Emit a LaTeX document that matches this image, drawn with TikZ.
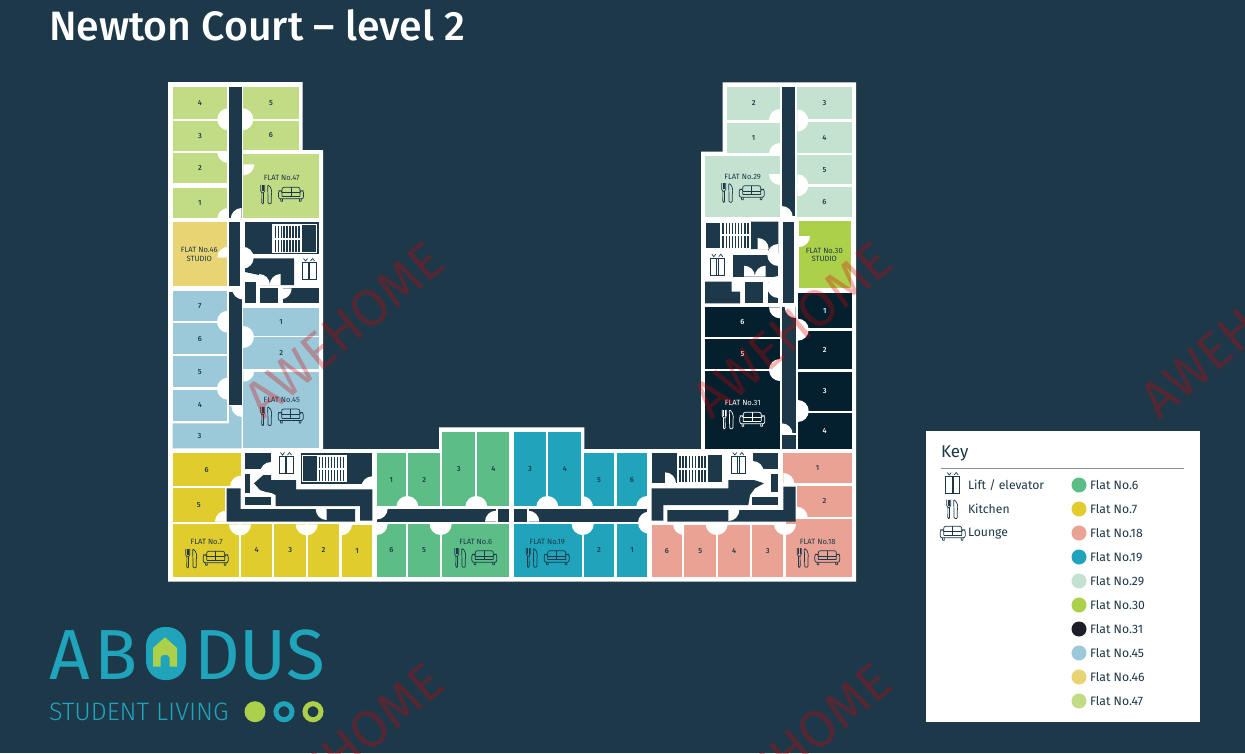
\documentclass[tikz,border=0pt]{standalone}
\usepackage{fontspec}
\setmainfont{Fira Sans}
\newfontfamily\lightfont{Fira Sans Light}
\newfontfamily\mediumfont{Fira Sans Medium}
\usetikzlibrary{shapes}

\definecolor{plandark}{HTML}{1D3849}
\definecolor{flatsix}{HTML}{5CBD86}
\definecolor{flatseven}{HTML}{E0CC2C}
\definecolor{flateighteen}{HTML}{EAA294}
\definecolor{flatnineteen}{HTML}{1FA4BC}
\definecolor{flattwentynine}{HTML}{C4E2D0}
\definecolor{flatthirty}{HTML}{ADD04A}
\definecolor{flatthirtyone}{HTML}{04202E}
\definecolor{flatfortyfive}{HTML}{9BC9DA}
\definecolor{flatfortysix}{HTML}{E8D472}
\definecolor{flatfortyseven}{HTML}{C2DB85}
\definecolor{logolime}{HTML}{ADD04A}
\definecolor{keyblack}{HTML}{1D1D27}

\newcommand{\room}[5]{\path[fill=#4] (#2) rectangle (#3) node[midway,roomnum](#1){#5};}
\newcommand{\door}[3]{\fill[white] (#1) -- ++(#2:11pt) arc[start angle=#2,end angle=#3,radius=11pt] -- cycle;}
\newcommand{\stairs}[6]{
\fill[white] (#1,#2) rectangle (#3,#4);
\fill[plandark] (#1+1,#2+1) rectangle (#3-1,#4-1);
\fill[white] (#5,#2) rectangle (#6,#4);
\foreach \n in {1,...,9} \fill[plandark] ({#5+\n*(#6-#5)/10-.7},#2+1.5) rectangle ({#5+\n*(#6-#5)/10+.7},#4-1.5);
\fill[white] (#5,{(#2+#4)/2-1}) rectangle (#6,{(#2+#4)/2+1});
}
\tikzset{
 pics/kitchen/.style={code={
  \draw[line width=.7pt] (-6,-9.5) -- (-6,-3.5) -- (-4.8,-1.5) -- (-3.2,-1.5) -- (-2,-3.5) -- (-2,-9.5);
  \draw[line width=.7pt] (-4.7,-9.5) -- (-4.7,-3.5) (-3.3,-9.5) -- (-3.3,-3.5);
  \draw[line width=.7pt,rounded corners=1pt] (-4.8,-1.5) -- (-4.9,9.5) -- (-3.1,9.5) -- (-3.2,-1.5);
  \draw[line width=.7pt,rounded corners=1pt] (1,-9.5) .. controls (5,-7) and (5.2,-2) .. (4.6,.5) -- (4.6,9.5) -- (1.4,9.5) -- cycle;
 }},
 pics/lounge/.style={code={
  \draw[line width=.7pt,rounded corners=2pt] (-9,-2) -- (-9,-7) -- (9,-7) -- (9,-2);
  \draw[line width=.7pt] (0,-7) -- (0,2) (-9,-1.5) -- (9,-1.5) (-9,2) -- (9,2);
  \draw[line width=.7pt,rounded corners=2pt] (-9,-1) -- (-9,-3.5) -- (-12.5,-3.5) -- (-12.5,4.5) -- (12.5,4.5) -- (12.5,-3.5) -- (9,-3.5) -- (9,2);
  \draw[line width=.7pt] (-9,2) -- (-9,-1) (-10.5,4.5) -- (-10,7) -- (-8.5,7) -- (-8.5,4.5) (10.5,4.5) -- (10,7) -- (8.5,7) -- (8.5,4.5);
 }},
 pics/lift/.style={code={
  \draw[line width=.7pt] (-7,-8.5) rectangle (7,8.5) (-.7,-8.5) -- (-.7,8.5) (.7,-8.5) -- (.7,8.5);
  \draw[line width=.7pt] (-5.5,-12.5) -- (-3.5,-10) -- (-1.5,-12.5) (1.5,-10) -- (3.5,-12.5) -- (5.5,-10);
 }}
}

\begin{document}
\begin{tikzpicture}[x=1pt,y=-1pt,text=plandark]
\tikzstyle{every node}=[inner sep=0pt,outer sep=0pt]
\tikzstyle{roomnum}=[font=\mediumfont\fontsize{7.4}{8}\selectfont]
\tikzstyle{flattitle}=[font=\fontsize{7.6}{8.6}\selectfont,align=center]
\tikzstyle{keydot}=[circle,minimum size=15pt,fill=#1]
\tikzstyle{keytext}=[anchor=west,font=\fontsize{12.2}{15}\selectfont]
\tikzstyle{watermark}=[anchor=south west,rotate=40,text=red!85!black,opacity=.3,font=\fontsize{52}{53}\selectfont]
\tikzstyle{logotype}=[anchor=base west,text=flatnineteen,font=\fontsize{71}{72}\selectfont]
\useasboundingbox (0,0) rectangle (1245,753);
\clip (0,0) rectangle (1245,753);
\fill[plandark] (0,0) rectangle (1245,753);

\node[anchor=base west,text=white,font=\mediumfont\fontsize{41}{45}\selectfont](title) at (49,40) {Newton Court – level 2};

\fill[white] (168,82) -- (302.7,82) -- (302.7,150) -- (323,150) -- (323,449) -- (439,449) -- (439,427.3) -- (584.3,427.3) -- (584.3,449) -- (701,449) -- (701,151.7) -- (722.7,151.7) -- (722.7,82.3) -- (856,82.3) -- (856,581.7) -- (168,581.7) -- cycle;

\room{fxlvii4}{172.5,86.7}{227.3,119}{flatfortyseven}{4}
\room{fxlvii3}{172.5,121}{227.3,151}{flatfortyseven}{3}
\room{fxlvii2}{172.5,153}{227.3,183}{flatfortyseven}{2}
\room{fxlvii1}{172.5,187.7}{227.3,218.3}{flatfortyseven}{1}
\room{fxlvii5}{243.3,86.7}{298.7,119}{flatfortyseven}{5}
\room{fxlvii6}{243.3,121}{298.7,150}{flatfortyseven}{6}
\room{fxlvii}{243.3,154.3}{319,218.3}{flatfortyseven}{}
\room{fxlvi}{172.5,222}{227.3,285.7}{flatfortysix}{}

\room{fxlv7}{172.5,290.7}{227.3,320.7}{flatfortyfive}{7}
\room{fxlv6}{172.5,323.3}{227.3,354}{flatfortyfive}{6}
\room{fxlv5}{172.5,356}{227.3,387.3}{flatfortyfive}{5}
\room{fxlv4}{172.5,390}{227.3,420.7}{flatfortyfive}{4}
\fill[flatfortyfive] (172.5,423.3) -- (229,423.3) -- (229,406) -- (241.7,406) -- (241.7,448.3) -- (172.5,448.3) -- cycle;
\node[roomnum](fxlv3) at (199.5,436) {3};
\room{fxlv1}{243.3,308}{319,335.7}{flatfortyfive}{1}
\room{fxlv2}{243.3,337.3}{319,369.3}{flatfortyfive}{2}
\room{fxlv}{243.3,371.7}{319,448.3}{flatfortyfive}{}

\room{fvii6}{172.5,453.3}{240.7,486}{flatseven}{6}
\room{fvii5}{172.5,488.3}{225,521.7}{flatseven}{5}
\room{fvii}{172.5,524}{238.7,576.7}{flatseven}{}
\room{fvii4}{241,524}{272.3,576.7}{flatseven}{4}
\room{fvii3}{274.3,524}{306,576.7}{flatseven}{3}
\room{fvii2}{308.3,524}{338.7,576.7}{flatseven}{2}
\room{fvii1}{341.7,525}{372.3,576.7}{flatseven}{1}

\room{fvi1}{376.7,453.3}{406,506}{flatsix}{1}
\room{fvi2}{408.3,453.3}{440,506}{flatsix}{2}
\room{fvi3}{442.3,432}{475.3,506}{flatsix}{3}
\room{fvi4}{477.3,432}{509.3,506}{flatsix}{4}
\room{fvi6}{376.7,524}{406,576.7}{flatsix}{6}
\room{fvi5}{408.3,524}{440,576.7}{flatsix}{5}
\room{fvi}{442.3,524}{509.3,576.7}{flatsix}{}

\room{fxix3}{514,432}{546,506}{flatnineteen}{3}
\room{fxix4}{548.3,432}{581.3,506}{flatnineteen}{4}
\room{fxix5}{583.7,453.3}{614.3,506}{flatnineteen}{5}
\room{fxix6}{616.7,453.3}{647.3,506}{flatnineteen}{6}
\room{fxix}{514,524}{581.7,576.7}{flatnineteen}{}
\room{fxix2}{583.7,524}{614.3,576.7}{flatnineteen}{2}
\room{fxix1}{616.7,524}{647.3,576.7}{flatnineteen}{1}

\room{fxviii1}{783.3,453.3}{851.7,483.3}{flateighteen}{1}
\room{fxviii2}{797.3,485.7}{851.7,516.7}{flateighteen}{2}
\room{fxviii}{785.7,518.7}{851.7,577.3}{flateighteen}{}
\room{fxviii6}{651.7,524.7}{682.3,577.3}{flateighteen}{6}
\room{fxviii5}{684.3,524.7}{716.3,577.3}{flateighteen}{5}
\room{fxviii4}{718.3,524.7}{750,577.3}{flateighteen}{4}
\room{fxviii3}{752,524.7}{783.3,577.3}{flateighteen}{3}

\begin{scope}[text=white]
\room{fxxxi6}{705,307.3}{780,336.7}{flatthirtyone}{6}
\room{fxxxi5}{705,338.7}{780,369.3}{flatthirtyone}{5}
\room{fxxxi}{705,371.3}{780,448.7}{flatthirtyone}{}
\room{fxxxi1}{797.7,293.3}{851.7,328.3}{flatthirtyone}{1}
\room{fxxxi2}{797.7,330.7}{851.7,369.3}{flatthirtyone}{2}
\room{fxxxi3}{797.7,371.7}{851.7,410.7}{flatthirtyone}{3}
\room{fxxxi4}{797.7,412.7}{851.7,448.7}{flatthirtyone}{4}
\end{scope}

\room{fxxix2}{727.3,86.7}{780,120}{flattwentynine}{2}
\room{fxxix1}{727.3,122.7}{780,153.3}{flattwentynine}{1}
\room{fxxix}{705,155.7}{780,216.7}{flattwentynine}{}
\room{fxxix3}{797.3,86.7}{851.7,119.3}{flattwentynine}{3}
\room{fxxix4}{797.3,122.3}{851.7,152.7}{flattwentynine}{4}
\room{fxxix5}{797.3,155}{851.7,184.3}{flattwentynine}{5}
\room{fxxix6}{797.3,186.7}{851.7,216.7}{flattwentynine}{6}
\room{fxxx}{799,221}{851,288.3}{flatthirty}{}

\door{228.3,119.3}{90}{270}
\door{242.3,119.3}{-90}{90}
\door{228.3,152}{180}{270}
\door{243.3,164.3}{-90}{0}
\door{228.3,219}{90}{180}
\door{228.3,257.7}{90}{180}
\door{228,321.7}{90}{270}
\door{228,388.7}{90}{270}
\door{243,337}{-90}{90}
\door{243.3,370.7}{-90}{0}
\door{242.3,406}{180}{270}
\door{241,486.7}{90}{180}
\door{226,521.7}{90}{180}
\door{240,524.3}{180}{360}
\door{306.7,524.3}{180}{360}
\door{341,524.3}{270}{360}
\door{407.3,507}{0}{180}
\door{476.3,507}{0}{180}
\door{547.3,507}{0}{180}
\door{582,507}{0}{90}
\door{647.3,507}{90}{180}
\door{440.7,524}{180}{360}
\door{582.7,524}{180}{360}
\door{376.7,524}{270}{360}
\door{684,524}{180}{270}
\door{716.7,524}{180}{360}
\door{785,524}{180}{360}
\door{796.7,517.7}{0}{90}
\door{783.3,484}{0}{90}
\door{780,307.3}{180}{270}
\door{797.7,329.7}{-90}{90}
\door{780,370}{90}{270}
\door{797.7,411}{-90}{90}
\door{780,120}{90}{180}
\door{797.3,120.5}{-90}{90}
\door{780,154}{90}{180}
\door{780,174}{180}{270}
\door{797.3,185.3}{-90}{90}
\door{799,236}{-90}{0}

\fill[plandark] (229,86.7) rectangle (241.7,218);
\fill[plandark] (229,222) rectangle (240.3,285.7);
\fill[plandark] (229,291.7) rectangle (241.7,405);
\fill[plandark] (245,222) rectangle (319,254);
\fill[plandark] (245,258.3) -- (294,258.3) -- (294,285) -- (259,285) -- (259,275) -- (245,272) -- cycle;
\fill[plandark] (245,281.7) rectangle (255.5,303.3);
\fill[plandark] (260,288.3) rectangle (278.3,303.3);
\fill[plandark] (282.7,288.3) rectangle (319,303.3);

\fill[plandark] (245,453.3) rectangle (271,469.3);
\fill[plandark] (300.7,453.3) rectangle (372.3,484.3);
\fill[plandark] (245,474) rectangle (250,492.7);
\fill[plandark] (245,497) rectangle (271,505);
\fill[plandark] (254,483.3) -- (263.3,475) -- (271,475) -- (271,480) -- (296,480) -- (296,489.3) -- (372.3,489.3) -- (372.3,520.7) -- (360,520.7) -- (360,506) -- (275.7,506) -- (275.7,495) -- (271.7,493) -- (266,492) -- (260,490) -- cycle;
\fill[plandark] (226.7,488.3) -- (240.7,488.3) -- (240.7,509) -- (355,509) -- (355,521.7) -- (226.7,521.7) -- cycle;

\fill[plandark] (376.7,509.3) rectangle (496,521.7);
\fill[plandark] (497.7,509.3) rectangle (509.3,521.7);
\fill[plandark] (514,509.3) rectangle (526.7,521.7);
\fill[plandark] (529.3,509.3) rectangle (647.3,521.7);

\fill[plandark] (651.7,453.3) rectangle (676.7,483.3);
\fill[plandark] (752.7,453.3) rectangle (778.3,469.3);
\fill[plandark] (651.7,488.3) -- (728.3,488.3) -- (728.3,480) -- (754,480) -- (764,483.3) -- (755,488.3) -- (750,495) -- (748.3,505) -- (663.3,505) -- (663.3,520.7) -- (651.7,520.7) -- cycle;
\fill[plandark] (783.3,486.7) -- (795.7,486.7) -- (795.7,521.7) -- (667.3,521.7) -- (667.3,510) -- (783.3,510) -- cycle;
\fill[plandark] (770.7,474) rectangle (778.3,491.7);
\fill[plandark] (751.7,496.7) rectangle (778.3,505);

\fill[plandark] (781.7,86.7) rectangle (795,216);
\fill[plandark] (783.3,221.7) rectangle (794,303.3);
\fill[plandark] (782,307) rectangle (795.7,433);
\fill[plandark] (782,434.7) rectangle (795.7,448.7);
\fill[plandark] (751,221.7) -- (778.3,221.7) -- (778.3,253.3) -- (768,253.3) -- (768,249) -- (751,249) -- cycle;
\fill[plandark] (733.3,255) rectangle (778.3,276.7);
\fill[plandark] (705,281.7) -- (731.7,281.7) -- (731.7,291.7) -- (740,291.7) -- (740,303.3) -- (705,303.3) -- cycle;
\fill[plandark] (745,281.7) rectangle (763.3,303.3);
\fill[plandark] (767.7,281.7) rectangle (778.3,303.3);

\door{241.7,219}{90}{180}
\door{242.7,257.7}{-90}{90}
\door{243,288.5}{180}{270}
\door{259,285}{0}{90}
\door{280.7,285}{90}{180}
\door{280.7,288.3}{-90}{0}
\door{271,473}{90}{180}
\door{372.3,487.3}{90}{180}
\door{326.7,509}{180}{270}
\door{376.7,508.5}{-90}{0}
\door{496,521.7}{90}{180}
\door{528.3,521.7}{0}{90}
\door{649,522.7}{90}{270}
\door{665,483.3}{0}{90}
\door{752.7,472}{0}{90}
\door{728.3,510}{-90}{0}
\door{795.7,307}{180}{270}
\door{781.7,434.3}{0}{90}
\door{781.7,217}{0}{90}
\door{757.7,249}{0}{90}
\door{778.3,255}{90}{270}
\door{744,276.7}{0}{90}
\door{765.7,276.7}{90}{180}
\door{778.3,287}{90}{270}

\stairs{272.3}{224.3}{316.7}{253.3}{272.3}{302}
\stairs{302.3}{455}{346.7}{482.3}{316.7}{346.7}
\stairs{676.7}{454.3}{723.3}{483.3}{676.7}{708.3}
\stairs{705}{221.7}{751}{249}{720}{751}

\pic[color=plandark] at (309,271) {lift};
\pic[color=plandark] at (286,465) {lift};
\pic[color=plandark] at (738.3,465) {lift};
\pic[color=plandark] at (717.3,266.7) {lift};

\node[flattitle](txlvii) at (281.7,177.7) {FLAT No.47};
\pic[color=plandark] at (266.7,194.3) {kitchen};
\pic[color=plandark] at (291,194.3) {lounge};
\node[flattitle](txlvi) at (199.3,254.3) {FLAT No.46\\STUDIO};
\node[flattitle](txlv) at (281.7,400) {FLAT No.45};
\pic[color=plandark] at (266.7,416) {kitchen};
\pic[color=plandark] at (290.7,416) {lounge};
\node[flattitle](tvii) at (206.7,542.3) {FLAT No.7};
\pic[color=plandark] at (191.7,558.3) {kitchen};
\pic[color=plandark] at (215.7,558.3) {lounge};
\node[flattitle](tvi) at (475.7,542) {FLAT No.6};
\pic[color=plandark] at (460.7,557.7) {kitchen};
\pic[color=plandark] at (484.3,557.7) {lounge};
\node[flattitle](txix) at (547.3,542) {FLAT No.19};
\pic[color=plandark] at (532.3,557.7) {kitchen};
\pic[color=plandark] at (556.7,557.7) {lounge};
\node[flattitle](txviii) at (817.7,541.7) {FLAT No.18};
\pic[color=plandark] at (803.3,557.7) {kitchen};
\pic[color=plandark] at (827.3,557.7) {lounge};
\node[flattitle,text=white](txxxi) at (742.7,402.7) {FLAT No.31};
\pic[color=white] at (728.3,419.3) {kitchen};
\pic[color=white] at (752.3,419.3) {lounge};
\node[flattitle](txxix) at (742.7,176.7) {FLAT No.29};
\pic[color=plandark] at (727.7,192.7) {kitchen};
\pic[color=plandark] at (751.7,192.7) {lounge};
\node[flattitle](txxx) at (824.3,255) {FLAT No.30\\STUDIO};

\fill[white] (926,431) rectangle (1200,721.7);
\node[anchor=base west,font=\fontsize{17}{20}\selectfont](keytitle) at (941,457) {Key};
\draw[line width=1pt,color=plandark!55] (940.7,468.7) -- (1184,468.7);
\pic[color=plandark] at (952.7,485) {lift};
\node[keytext](klift) at (968,485.2) {Lift / elevator};
\pic[color=plandark] at (952.7,509) {kitchen};
\node[keytext](kkitchen) at (968,509.2) {Kitchen};
\pic[color=plandark] at (952.7,533.3) {lounge};
\node[keytext](klounge) at (968,533.2) {Lounge};

\node[keydot=flatsix](d6) at (1079,485) {};
\node[keytext](t6) at (1090,485.2) {Flat No.6};
\node[keydot=flatseven](d7) at (1079,509) {};
\node[keytext](t7) at (1090,509.2) {Flat No.7};
\node[keydot=flateighteen](d18) at (1079,533) {};
\node[keytext](t18) at (1090,533.2) {Flat No.18};
\node[keydot=flatnineteen](d19) at (1079,557) {};
\node[keytext](t19) at (1090,557.2) {Flat No.19};
\node[keydot=flattwentynine](d29) at (1079,581) {};
\node[keytext](t29) at (1090,581.2) {Flat No.29};
\node[keydot=flatthirty](d30) at (1079,605) {};
\node[keytext](t30) at (1090,605.2) {Flat No.30};
\node[keydot=keyblack](d31) at (1079,629) {};
\node[keytext](t31) at (1090,629.2) {Flat No.31};
\node[keydot=flatfortyfive](d45) at (1079,653) {};
\node[keytext](t45) at (1090,653.2) {Flat No.45};
\node[keydot=flatfortysix](d46) at (1079,677) {};
\node[keytext](t46) at (1090,677.2) {Flat No.46};
\node[keydot=flatfortyseven](d47) at (1079,701) {};
\node[keytext](t47) at (1090,701.2) {Flat No.47};

\node[logotype](logoab) at (49,679) {A\kern5pt B};
\node[logotype](logodus) at (194,679) {DUS};
\fill[flatnineteen,rounded corners=19pt] (146,627) rectangle (186,680);
\fill[logolime] (153,648) -- (165,637.3) -- (177,648) -- (177,666.7) -- (169.5,666.7) -- (169.5,657.5) -- (167.5,655) -- (162.5,655) -- (160.5,657.5) -- (160.5,666.7) -- (153,666.7) -- cycle;
\node[anchor=base west,text=flatnineteen,font=\lightfont\fontsize{25.2}{26}\selectfont](logotext) at (49,720) {STUDENT LIVING};
\fill[logolime] (255,711.7) circle[radius=10.5pt];
\draw[flatnineteen,line width=5pt] (284,711.7) circle[radius=8pt];
\draw[logolime,line width=5pt] (313,711.7) circle[radius=8pt];

\node[watermark](wa) at (264,421) {AWEHOME};
\node[watermark](wb) at (712,421) {AWEHOME};
\node[watermark](wc) at (1160,421) {AWEHOME};
\node[watermark](wd) at (264,842) {AWEHOME};
\node[watermark](we) at (712,842) {AWEHOME};
\end{tikzpicture}
\end{document}
